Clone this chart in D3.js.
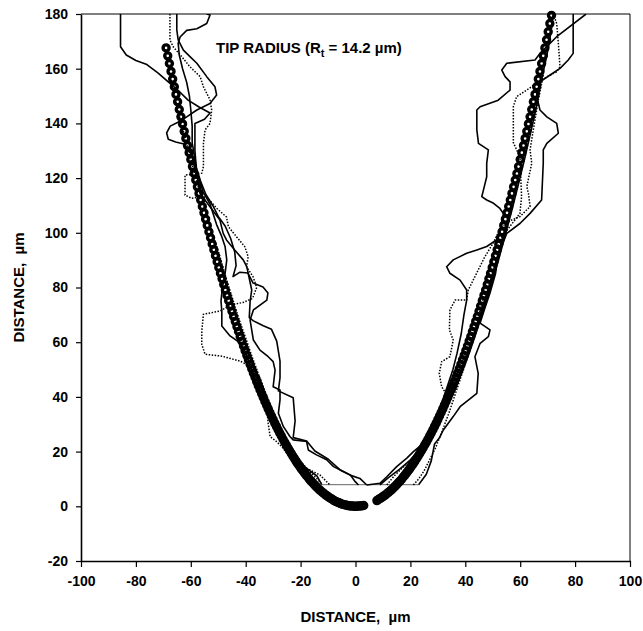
<!DOCTYPE html>
<html>
<head>
<meta charset="utf-8">
<script src="https://cdn.jsdelivr.net/npm/d3@7"></script>
<style>
  body { margin: 0; background: #fff; }
  svg { font-family: 'Liberation Sans', Arial, sans-serif; font-weight: bold; }
</style>
</head>
<body>
<svg id="chart" width="643" height="631"></svg>
<script>
// axis ticks
const xTicks = [-100, -80, -60, -40, -20, 0, 20, 40, 60, 80, 100];
const yTicks = [-20, 0, 20, 40, 60, 80, 100, 120, 140, 160, 180];

// fitted parabola (open circle markers)
const fitLeft = [[-69.0,167.6],[-68.4,164.7],[-67.8,161.9],[-67.2,159.0],[-66.6,156.2],[-66.0,153.4],[-65.4,150.6],[-64.8,147.9],[-64.2,145.1],[-63.6,142.4],
  [-63.0,139.8],[-62.4,137.1],[-61.8,134.5],[-61.2,131.9],[-60.6,129.3],[-60.0,126.8],[-59.4,124.2],[-58.8,121.7],[-58.2,119.3],[-57.6,116.8],
  [-57.0,114.4],[-56.4,112.0],[-55.8,109.6],[-55.2,107.3],[-54.6,105.0],[-54.0,102.7],[-53.4,100.4],[-52.8,98.2],[-52.2,95.9],[-51.6,93.8],
  [-51.0,91.6],[-50.4,89.4],[-49.8,87.3],[-49.2,85.2],[-48.6,83.2],[-48.0,81.1],[-47.4,79.1],[-46.8,77.1],[-46.2,75.2],[-45.6,73.2],
  [-45.0,71.3],[-44.4,69.4],[-43.8,67.6],[-43.2,65.7],[-42.6,63.9],[-42.0,62.1],[-41.4,60.4],[-40.8,58.6],[-40.2,56.9],[-39.6,55.2],
  [-39.0,53.6],[-38.4,51.9],[-37.8,50.3],[-37.2,48.7],[-36.6,47.2],[-36.0,45.6],[-35.4,44.1],[-34.8,42.6],[-34.2,41.2],[-33.6,39.8],
  [-33.0,38.3],[-32.4,37.0],[-31.8,35.6],[-31.2,34.3],[-30.6,33.0],[-30.0,31.7],[-29.4,30.4],[-28.8,29.2],[-28.2,28.0],[-27.6,26.8],
  [-27.0,25.7],[-26.4,24.5],[-25.8,23.4],[-25.2,22.4],[-24.6,21.3],[-24.0,20.3],[-23.4,19.3],[-22.8,18.3],[-22.2,17.4],[-21.6,16.4],
  [-21.0,15.5],[-20.4,14.7],[-19.8,13.8],[-19.2,13.0],[-18.6,12.2],[-18.0,11.4],[-17.4,10.7],[-16.8,9.9],[-16.2,9.2],[-15.6,8.6],
  [-15.0,7.9],[-14.4,7.3],[-13.8,6.7],[-13.2,6.1],[-12.6,5.6],[-12.0,5.1],[-11.4,4.6],[-10.8,4.1],[-10.2,3.7],[-9.6,3.2],
  [-9.0,2.9],[-8.4,2.5],[-7.8,2.1],[-7.2,1.8],[-6.6,1.5],[-6.0,1.3],[-5.4,1.0],[-4.8,0.8],[-4.2,0.6],[-3.6,0.5],
  [-3.0,0.3],[-2.4,0.2],[-1.8,0.1],[-1.2,0.1],[-0.6,0.0],[0.0,0.0],[0.6,0.0],[1.2,0.1],[1.8,0.1],[2.4,0.2],[3.0,0.3]];

const fitRight = [[7.8,2.1],[8.4,2.5],[9.0,2.9],[9.6,3.2],[10.2,3.7],[10.8,4.1],[11.4,4.6],[12.0,5.1],[12.6,5.6],[13.2,6.1],
  [13.8,6.7],[14.4,7.3],[15.0,7.9],[15.6,8.6],[16.2,9.2],[16.8,9.9],[17.4,10.7],[18.0,11.4],[18.6,12.2],[19.2,13.0],
  [19.8,13.8],[20.4,14.7],[21.0,15.5],[21.6,16.4],[22.2,17.4],[22.8,18.3],[23.4,19.3],[24.0,20.3],[24.6,21.3],[25.2,22.4],
  [25.8,23.4],[26.4,24.5],[27.0,25.7],[27.6,26.8],[28.2,28.0],[28.8,29.2],[29.4,30.4],[30.0,31.7],[30.6,33.0],[31.2,34.3],
  [31.8,35.6],[32.4,37.0],[33.0,38.3],[33.6,39.8],[34.2,41.2],[34.8,42.6],[35.4,44.1],[36.0,45.6],[36.6,47.2],[37.2,48.7],
  [37.8,50.3],[38.4,51.9],[39.0,53.6],[39.6,55.2],[40.2,56.9],[40.8,58.6],[41.4,60.4],[42.0,62.1],[42.6,63.9],[43.2,65.7],
  [43.8,67.6],[44.4,69.4],[45.0,71.3],[45.6,73.2],[46.2,75.2],[46.8,77.1],[47.4,79.1],[48.0,81.1],[48.6,83.2],[49.2,85.2],
  [49.8,87.3],[50.4,89.4],[51.0,91.6],[51.6,93.8],[52.2,95.9],[52.8,98.2],[53.4,100.4],[54.0,102.7],[54.6,105.0],[55.2,107.3],
  [55.8,109.6],[56.4,112.0],[57.0,114.4],[57.6,116.8],[58.2,119.3],[58.8,121.7],[59.4,124.2],[60.0,126.8],[60.6,129.3],[61.2,131.9],
  [61.8,134.5],[62.4,137.1],[63.0,139.8],[63.6,142.4],[64.2,145.1],[64.8,147.9],[65.4,150.6],[66.0,153.4],[66.6,156.2],[67.2,159.0],
  [67.8,161.9],[68.4,164.7],[69.0,167.6],[69.6,170.6],[70.2,173.5],[70.8,176.5],[71.4,179.5]];

// measured profiles, left flank (top -> tip)
const leftSolid1 = [[-85.6,180],[-85.6,168],[-83.5,165],[-80,163],[-76,161.5],[-72,158.5],[-68,155],[-64,151.5],[-61,148.5],[-57,146],[-53,143.8],[-55,141.5],[-58.5,140],[-58.5,130],[-58,124],[-56.5,119],[-54.5,114],[-52,110],[-50,106],[-47.5,102.5],[-45.5,98],[-44,93],[-43.5,88],[-44.6,84],[-42.1,85.6],[-39.2,85.3],[-37.3,81.6],[-33.7,80.2],[-31.9,78],[-32.3,75.4],[-37.2,71.8],[-38.4,68.1],[-37.2,60.8],[-34.8,57.1],[-31.8,54.7],[-30,52.9],[-29.3,49.8],[-30,43.7],[-27.5,42.5],[-27.5,38.9],[-28.1,34],[-26.3,29.2],[-23.9,25.5],[-22.7,24.3],[-17.8,23.7],[-17.2,20.6],[-14.2,18.8],[-10.5,17],[-8,14.5],[-4.4,12.7],[-1.9,11.5],[-0.1,9],[1.1,7.8]];
const leftSolid2 = [[-65.1,180],[-65.1,174.2],[-64.6,170.5],[-62.7,166.8],[-60.3,164.4],[-57.8,162],[-54.2,157.1],[-51.2,153.4],[-50.6,150.4],[-53,147.3],[-57.8,144.9],[-61.5,142.4],[-64.5,140.5],[-67.5,139],[-68.8,136.5],[-68.2,134.2],[-65.5,133.2],[-62.5,132.5],[-60,129],[-59,127],[-57.5,121],[-55.5,115],[-53,110.5],[-50.6,103],[-48.7,98.6],[-47.5,94.9],[-46.9,90.1],[-47.5,85.2],[-48.5,80],[-49,75],[-48.7,71.4],[-48.7,65.9],[-45.7,62.3],[-42.1,59.8],[-40.3,56.8],[-38.5,52],[-36.5,46],[-34,40],[-31.5,34],[-28.7,28],[-25.5,22.5],[-22,18],[-18,14],[-14,11],[-12.3,7.9]];
const leftSolid3 = [[-54.2,180],[-53,179.6],[-54.2,176.5],[-57.8,174.6],[-61.5,174],[-63.9,171.6],[-64.6,169.3],[-64.2,165],[-63,160],[-61.5,155],[-60.5,150],[-60,145],[-59.5,139],[-59.5,133],[-58.5,127],[-57.5,120],[-56.6,114.4],[-53,109.5],[-49.4,104.7],[-48.2,99.8],[-47,97.4],[-44,93.7],[-40.9,90.1],[-39.6,87.6],[-37.8,79.1],[-38.4,74.8],[-38.7,69],[-37.2,67.8],[-33.6,66],[-30.6,64.7],[-28.7,60.4],[-27.5,53.1],[-27.5,47],[-28.1,42.2],[-22.7,39.7],[-22,31.2],[-22.7,25.1],[-17.8,23.9],[-14.8,20.2],[-9.9,17.2],[-5.6,13.3],[-2,11.4],[1.6,10.2],[4.1,7.8]];
const leftDotted1 = [[-67.6,180],[-67.6,170.5],[-66.4,168],[-63.3,164.4],[-60.3,160.7],[-56.6,157.1],[-55.4,153.4],[-53,148.6],[-52.4,144.9],[-53,140],[-54.8,137.6],[-55.4,132.7],[-55.4,124.2],[-56,121.8],[-62.1,121.1],[-62.1,113.8],[-59.7,112.6],[-56.6,113.1],[-54.2,113.1],[-50.6,109],[-47,105.8],[-46.3,102.2],[-43.3,98.5],[-40.3,94.9],[-39.1,91.2],[-39.7,87.6],[-37.3,83.9],[-36,80],[-37.5,76],[-41,74.5],[-45,73.8],[-49.4,71.4],[-55.4,70.2],[-56,64.1],[-56,59.2],[-54.8,55.6],[-48.7,54.9],[-42.1,53.1],[-37.3,50.7],[-34.8,47],[-32.4,39.7],[-32.4,36.4],[-31.8,30.3],[-31.1,25.5],[-28.7,23.6],[-26.9,21.8],[-23.9,18.1],[-20.2,14.5],[-16.6,13.3],[-12.9,11.4],[-10.5,9],[-9.3,7.8]];
const leftDotted2 = [[-66,150],[-63.5,140],[-61,131],[-59,123],[-56.8,115],[-54.3,107],[-51.8,99],[-49.3,91],[-47,83],[-44.5,75],[-42.3,68],[-40,61.5],[-37.8,55],[-35.6,49],[-33.3,43],[-31,37],[-28.5,31],[-26,26],[-23,21],[-20,16.5],[-17,13],[-14.5,10.5],[-12.5,8.5]];

// measured profiles, right flank (tip -> top)
const rightSolid1 = [[8.9,7.8],[12,10.5],[16,13.5],[20,17],[23.5,21],[26.5,26],[29,32],[31.5,38],[33.5,44],[35.5,50],[37,56],[38.5,63],[39.5,70],[40.5,75.4],[40.5,79.1],[38.1,82.7],[34.4,85.2],[33.2,87.6],[35.6,90.1],[40.5,92.5],[44.2,93.7],[47.8,95],[51.4,97.4],[53,102],[53.9,107],[52.6,108.9],[50.3,110.8],[47.8,112],[46,113.2],[46.6,115.6],[47.8,120.5],[47.8,125.4],[48.4,130.3],[44.8,132.7],[44.2,137.6],[44.2,144.9],[45.4,146.1],[52,148.5],[56.3,152.2],[56.3,155.2],[54.5,157.1],[53.3,159.5],[55.1,162],[65.4,163.2],[67.2,165.6],[73.3,171.7],[84,180]];
const rightSolid2 = [[23,7.9],[25.8,11.7],[27.6,16.6],[28.8,22.8],[30.6,25.1],[32,27.9],[35.6,32.8],[38.1,36.4],[44.2,41.3],[44.7,48.6],[43.5,54.7],[45.4,59.6],[48.4,62],[49,64.5],[45.4,67],[47,72],[49,78],[51,85],[52,92],[55.1,99.8],[59.9,103.4],[63.6,107.1],[67.8,112],[68.4,125.4],[68.4,130.3],[69.7,132.7],[73.9,136.4],[73.3,140],[69.7,142.4],[67.2,144.9],[66,150],[67.2,155.2],[70.9,157.7],[74.5,160.1],[77.5,163.2],[79.3,165.6],[79.3,180]];
const rightSolid3 = [[4.1,7.8],[8.9,8.4],[11.4,10.8],[15,14.5],[18.7,17.6],[21.1,20],[24.7,23],[28.3,26.7],[31,31],[33,36],[36,42],[38.4,48],[40.7,54],[42.8,60],[44.8,66],[46.7,72],[48.6,78],[50.3,84],[52.1,90],[53.7,96],[55.3,102],[56.9,108],[58.4,114],[59.9,120],[61.6,127],[63.2,134],[64.8,141],[66.3,148],[67.3,154],[68.2,158],[69.3,163],[70.3,168],[71.3,174],[72,180]];
const rightDotted1 = [[21.1,7.8],[23,10],[25,13],[27,17],[29,21],[31,26],[32.5,30],[34,34],[36,40],[38,46],[40,52],[42,58],[43.5,64],[45,70],[46.5,76],[48,82],[49.5,88],[51,93],[53,98],[56,102],[59.9,107.1],[60.5,113.2],[59.9,127.8],[57.5,133],[57.5,141.3],[57.5,146.1],[58.7,149.8],[62.4,152.2],[66,154.7],[69.7,157],[73.3,158.9],[74.5,160.7],[73.9,169.3],[73.3,176.5],[72.1,180]];
const rightDotted2 = [[11.4,7.8],[14,11],[17,14],[20.5,17],[24,21.5],[27.5,27.5],[31,34],[34.4,38.9],[31.4,43.7],[30.5,48.6],[31.4,52.9],[34.4,54.7],[35.6,60.8],[34.2,64.5],[34.4,71.8],[36.3,75.4],[40.5,75.4],[41.1,79.1],[44,85],[47,91],[50,96],[53,102],[56.5,104.5],[59.9,105.9],[63.6,109.6],[63,114.4],[62.4,116.9],[64.2,125.4],[63.6,130.3],[64.5,136],[65.5,142],[66.5,148],[67.5,153],[68.5,158]];

// flat cut-off line at the tip
const tipFlat = [[-12.3,7.9],[23.0,7.9]];

const solidProfiles = [leftSolid1, leftSolid2, leftSolid3, rightSolid1, rightSolid2, rightSolid3];
const dottedProfiles = [leftDotted1, leftDotted2, rightDotted1, rightDotted2];

const svg = d3.select('#chart');
const margin = { top: 14, right: 13, bottom: 70, left: 81 };
const width = +svg.attr('width');
const height = +svg.attr('height');

const xScale = d3.scaleLinear().domain([-100, 100]).range([margin.left, width - margin.right]);
const yScale = d3.scaleLinear().domain([-20, 180]).range([height - margin.bottom, margin.top]);

const line = d3.line().x(d => xScale(d[0])).y(d => yScale(d[1]));

// clip the data area
svg.append('clipPath').attr('id', 'plotClip')
    .append('rect')
    .attr('x', margin.left).attr('y', margin.top)
    .attr('width', xScale(100) - xScale(-100))
    .attr('height', yScale(-20) - yScale(180));

const plot = svg.append('g').attr('clip-path', 'url(#plotClip)');

plot.append('path')
    .datum(tipFlat)
    .attr('d', line)
    .attr('fill', 'none')
    .attr('stroke', '#666')
    .attr('stroke-width', 1);

plot.selectAll('.solid')
    .data(solidProfiles)
    .join('path')
    .attr('class', 'solid')
    .attr('d', line)
    .attr('fill', 'none')
    .attr('stroke', '#000')
    .attr('stroke-width', 1.6)
    .attr('stroke-linejoin', 'round');

plot.selectAll('.dotted')
    .data(dottedProfiles)
    .join('path')
    .attr('class', 'dotted')
    .attr('d', line)
    .attr('fill', 'none')
    .attr('stroke', '#000')
    .attr('stroke-width', 1.5)
    .attr('stroke-dasharray', '1.5,1.5');

//open circles of the parabola fit
svg.append('g')
    .selectAll('circle')
    .data(fitLeft.concat(fitRight))
    .join('circle')
    .attr('cx', d => xScale(d[0]))
    .attr('cy', d => yScale(d[1]))
    .attr('r', 3)
    .attr('fill', 'none')
    .attr('stroke', '#000')
    .attr('stroke-width', 3.4);

// frame: top and right
svg.append('path')
    .attr('d', `M${xScale(-100)},${yScale(180)}H${xScale(100)}V${yScale(-20)}`)
    .attr('fill', 'none')
    .attr('stroke', '#000')
    .attr('stroke-width', 1);

const fmt = d => String(d);

const xAxis = svg.append('g')
    .attr('transform', `translate(0,${yScale(-20)})`)
    .call(d3.axisBottom(xScale).tickValues(xTicks).tickFormat(fmt).tickSize(6).tickPadding(9).tickSizeOuter(0));

const yAxis = svg.append('g')
    .attr('transform', `translate(${xScale(-100)},0)`)
    .call(d3.axisLeft(yScale).tickValues(yTicks).tickFormat(fmt).tickSize(5).tickPadding(8).tickSizeOuter(0));

[xAxis, yAxis].forEach(ax => {
    ax.select('.domain').attr('stroke', '#000').attr('stroke-width', 1.6);
    ax.selectAll('.tick line').attr('stroke', '#000').attr('stroke-width', 1.2);
    ax.selectAll('.tick text')
        .attr('fill', '#000')
        .style('font-size', '14px')
        .style('font-weight', 'bold')
        .style('font-family', "'Liberation Sans', Arial, sans-serif");
});

svg.append('text')
    .attr('x', (xScale(-100) + xScale(100)) / 2)
    .attr('y', 622)
    .attr('text-anchor', 'middle')
    .style('font-size', '15px')
    .text('DISTANCE,\u00a0 \u00b5m');

svg.append('text')
    .attr('transform', `translate(24,${(yScale(-20) + yScale(180)) / 2}) rotate(-90)`)
    .attr('text-anchor', 'middle')
    .style('font-size', '15px')
    .text('DISTANCE,\u00a0 \u00b5m');

const title = svg.append('text')
    .attr('x', 216)
    .attr('y', 53)
    .style('font-size', '15px');
title.append('tspan').text('TIP RADIUS (R');
title.append('tspan').attr('dy', 4).style('font-size', '11px').text('t');
title.append('tspan').attr('dy', -4).text(' = 14.2 \u00b5m)');
</script>
</body>
</html>
